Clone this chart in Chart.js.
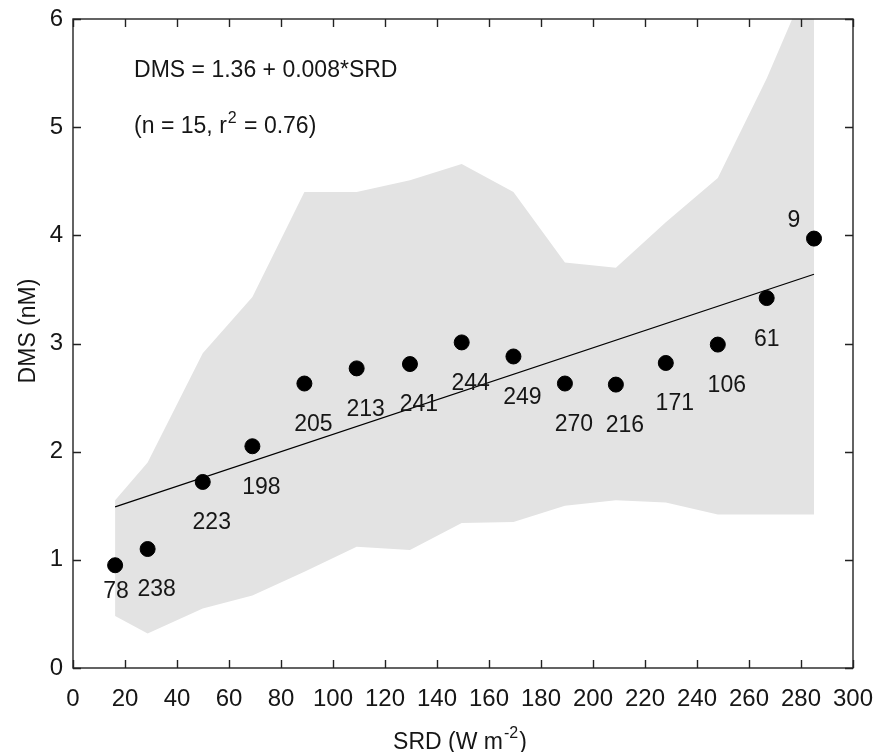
<!DOCTYPE html>
<html>
<head>
<meta charset="utf-8">
<script src="https://cdn.jsdelivr.net/npm/chart.js@4.4.1/dist/chart.umd.min.js"></script>
<style>
  html, body { margin: 0; padding: 0; background: #fff; }
  #wrap { width: 877px; height: 752px; }
</style>
</head>
<body>
<div id="wrap"><canvas id="dmsChart" width="877" height="752"></canvas></div>
<script>
// SRD (W m-2) bins and mean DMS (nM)
const srd = [16.2, 28.7, 49.9, 69.0, 89.0, 109.1, 129.6, 149.5, 169.4, 189.2, 208.8, 228.0, 248.0, 266.8, 285.0];
const dms = [0.95, 1.10, 1.72, 2.05, 2.63, 2.77, 2.81, 3.01, 2.88, 2.63, 2.62, 2.82, 2.99, 3.42, 3.97];
const sampleCounts = ['78', '238', '223', '198', '205', '213', '241', '244', '249', '270', '216', '171', '106', '61', '9'];

// grey envelope
const bandUpper = [1.55, 1.90, 2.91, 3.43, 4.40, 4.40, 4.51, 4.66, 4.40, 3.75, 3.70, 4.12, 4.53, 5.45, 6.47];
const bandLower = [0.48, 0.32, 0.55, 0.67, 0.89, 1.12, 1.09, 1.34, 1.35, 1.50, 1.55, 1.53, 1.42, 1.42, 1.42];

// regression line DMS = 1.36 + 0.008*SRD
const fitX = [16.2, 285.0];
const fitY = [1.49, 3.64];

const xTickValues = [0, 20, 40, 60, 80, 100, 120, 140, 160, 180, 200, 220, 240, 260, 280, 300];
const yTickValues = [0, 1, 2, 3, 4, 5, 6];

const FONT = '"Liberation Sans", Arial, sans-serif';
const INK = '#161616';

const toXY = (xs, ys) => xs.map((x, i) => ({x: x, y: ys[i]}));

// label offsets in px from the marker (most sit below-right)
function labelShift(txt) {
    if (txt === '78') return [1, 26];
    if (txt === '61') return [0, 42];
    if (txt === '9') return [-20, -18];
    return [9, 41];
}

const matlabLook = {
    id: 'matlabLook',
    afterDatasetsDraw(chart) {
        const ctx = chart.ctx;
        const area = chart.chartArea;
        const xs = chart.scales.x, ys = chart.scales.y;

        // sample count labels
        ctx.save();
        ctx.fillStyle = INK;
        ctx.font = '23px ' + FONT;
        ctx.textAlign = 'center';
        ctx.textBaseline = 'middle';
        sampleCounts.forEach((txt, i) => {
            const s = labelShift(txt);
            ctx.fillText(txt, xs.getPixelForValue(srd[i]) + s[0], ys.getPixelForValue(dms[i]) + s[1]);
        });
        ctx.restore();

        // box and inward ticks
        ctx.save();
        ctx.strokeStyle = '#222';
        ctx.lineWidth = 1.4;
        ctx.strokeRect(area.left, area.top, area.right - area.left, area.bottom - area.top);
        const tl = 8;
        ctx.beginPath();
        xTickValues.forEach(v => {
            const px = Math.round(xs.getPixelForValue(v)) + 0.5;
            ctx.moveTo(px, area.bottom); ctx.lineTo(px, area.bottom - tl);
            ctx.moveTo(px, area.top); ctx.lineTo(px, area.top + tl);
        });
        yTickValues.forEach(v => {
            const py = Math.round(ys.getPixelForValue(v)) + 0.5;
            ctx.moveTo(area.left, py); ctx.lineTo(area.left + tl, py);
            ctx.moveTo(area.right, py); ctx.lineTo(area.right - tl, py);
        });
        ctx.stroke();
        ctx.restore();

        // equation text
        ctx.save();
        ctx.fillStyle = INK;
        ctx.textBaseline = 'alphabetic';
        ctx.textAlign = 'left';
        ctx.font = '23px ' + FONT;
        const ax = xs.getPixelForValue(23.5);
        ctx.fillText('DMS = 1.36 + 0.008*SRD', ax, ys.getPixelForValue(5.46));
        const by = ys.getPixelForValue(4.95);
        let cx = ax;
        const part1 = '(n = 15, r';
        ctx.fillText(part1, cx, by);
        cx += ctx.measureText(part1).width;
        ctx.font = '16px ' + FONT;
        ctx.fillText('2', cx + 1, by - 10);
        cx += ctx.measureText('2').width + 2;
        ctx.font = '23px ' + FONT;
        ctx.fillText(' = 0.76)', cx, by);
        ctx.restore();

        // axis titles
        ctx.save();
        ctx.fillStyle = INK;
        ctx.font = '23px ' + FONT;
        ctx.textBaseline = 'alphabetic';
        const t1 = 'SRD (W m', t2 = '-2', t3 = ')';
        const w1 = ctx.measureText(t1).width, w3 = ctx.measureText(t3).width;
        ctx.font = '16px ' + FONT;
        const w2 = ctx.measureText(t2).width;
        let tx = 460 - (w1 + w2 + w3 + 2) / 2;
        const tyy = 749;
        ctx.font = '23px ' + FONT;
        ctx.textAlign = 'left';
        ctx.fillText(t1, tx, tyy);
        tx += w1 + 1;
        ctx.font = '16px ' + FONT;
        ctx.fillText(t2, tx, tyy - 11);
        tx += w2 + 1;
        ctx.font = '23px ' + FONT;
        ctx.fillText(t3, tx, tyy);

        ctx.translate(35, 331);
        ctx.rotate(-Math.PI / 2);
        ctx.textAlign = 'center';
        ctx.fillText('DMS (nM)', 0, 0);
        ctx.restore();
    }
};

const dmsChart = new Chart(document.getElementById('dmsChart'), {
    type: 'scatter',
    data: {
        datasets: [
            {
                label: 'DMS',
                data: toXY(srd, dms),
                order: 0,
                pointRadius: 7.5,
                pointBackgroundColor: '#000',
                pointBorderColor: '#000',
                pointBorderWidth: 1,
                showLine: false
            },
            {
                label: 'fit',
                data: toXY(fitX, fitY),
                order: 1,
                showLine: true,
                borderColor: '#000',
                borderWidth: 1.2,
                pointRadius: 0,
                tension: 0
            },
            {
                label: 'upper',
                data: toXY(srd, bandUpper),
                order: 2,
                showLine: true,
                borderWidth: 0,
                borderColor: 'rgba(0,0,0,0)',
                backgroundColor: '#e3e3e3',
                pointRadius: 0,
                fill: '+1',
                tension: 0
            },
            {
                label: 'lower',
                data: toXY(srd, bandLower),
                order: 3,
                showLine: true,
                borderWidth: 0,
                borderColor: 'rgba(0,0,0,0)',
                pointRadius: 0,
                fill: false,
                tension: 0
            }
        ]
    },
    options: {
        responsive: false,
        animation: false,
        events: [],
        layout: { padding: { left: 0, right: 24, top: 19, bottom: 0 } },
        plugins: {
            legend: { display: false },
            tooltip: { enabled: false }
        },
        scales: {
            x: {
                type: 'linear',
                min: 0,
                max: 300,
                afterBuildTicks: (axis) => { axis.ticks = xTickValues.map(v => ({value: v})); },
                afterFit: (axis) => { axis.height = 84; axis.paddingLeft = 0; axis.paddingRight = 0; },
                grid: { display: false, drawTicks: false },
                border: { display: false },
                ticks: {
                    padding: 17,
                    color: INK,
                    font: { family: FONT, size: 24 },
                    maxRotation: 0,
                    autoSkip: false
                }
            },
            y: {
                type: 'linear',
                min: 0,
                max: 6,
                afterBuildTicks: (axis) => { axis.ticks = yTickValues.map(v => ({value: v})); },
                afterFit: (axis) => { axis.width = 73; axis.paddingTop = 0; axis.paddingBottom = 0; },
                grid: { display: false, drawTicks: false },
                border: { display: false },
                ticks: {
                    padding: 10,
                    color: INK,
                    font: { family: FONT, size: 24 }
                }
            }
        }
    },
    plugins: [matlabLook]
});
</script>
</body>
</html>
